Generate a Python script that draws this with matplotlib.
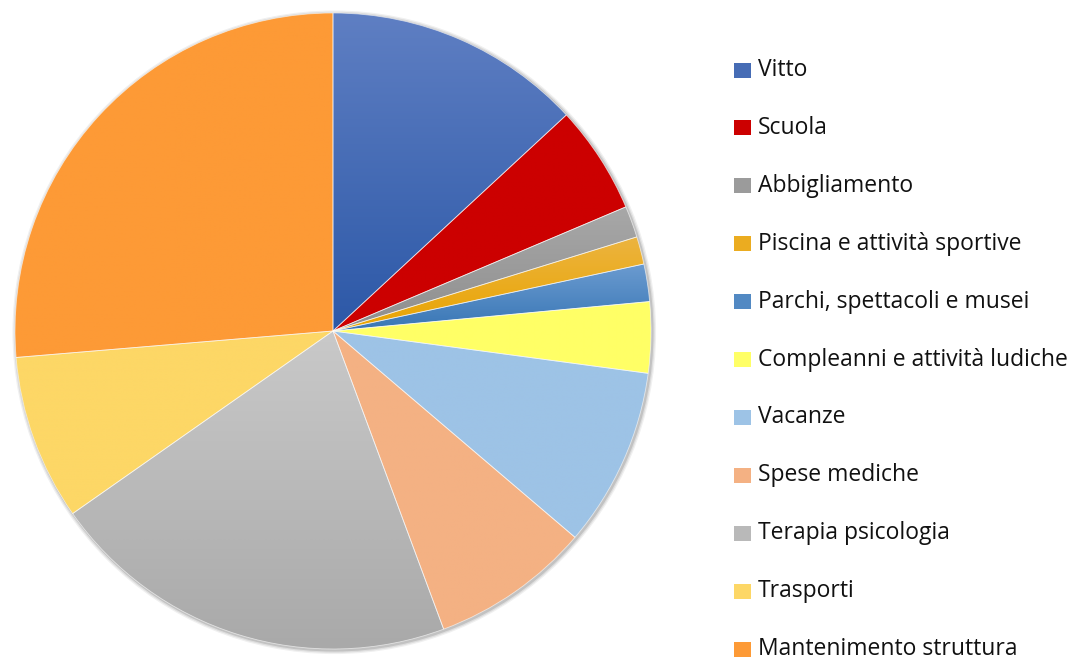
import numpy as np
import matplotlib
matplotlib.use("Agg")
import matplotlib.pyplot as plt
from matplotlib.colors import LinearSegmentedColormap, to_rgb
from matplotlib.patches import Rectangle, Circle

categories = ["Vitto", "Scuola", "Abbigliamento", "Piscina e attività sportive",
              "Parchi, spettacoli e musei", "Compleanni e attività ludiche",
              "Vacanze", "Spese mediche", "Terapia psicologia", "Trasporti",
              "Mantenimento struttura"]
values = [13.1, 5.5, 1.6, 1.4, 1.9, 3.6, 9.1, 8.1, 20.9, 8.4, 26.3]

# (top colour, bottom colour) of each slice's vertical gradient
top_colors = ["#5f7fc3", "#cc0000", "#a8a8a8", "#ecb440", "#6b9bd0", "#ffff66",
              "#9dc3e6", "#f4b183", "#c9c9c9", "#fdd766", "#fd9a36"]
bot_colors = ["#2c58a7", "#cc0000", "#8e8e8e", "#e9a400", "#3876b5", "#ffff66",
              "#9dc3e6", "#f4b183", "#a9a9a9", "#fdd766", "#fd9a36"]

plt.rcParams['font.family'] = ['Open Sans', 'DejaVu Sans']

W, H = 1080, 660
fig = plt.figure(figsize=(W / 100, H / 100), dpi=100)
cx, cy, R = 333, 331, 318
ax = fig.add_axes([(cx - R * 1.02) / W, (H - cy - R * 1.02) / H,
                   2 * R * 1.02 / W, 2 * R * 1.02 / H])
ax.set_aspect('equal')
ax.axis('off')

# soft shadow
for k, a in [(1.012, 0.06), (1.008, 0.08), (1.004, 0.12)]:
    ax.add_patch(Circle((0.004, -0.004), k, color='#000000', alpha=a, lw=0, zorder=0))

wedges, _ = ax.pie(values, startangle=90, counterclock=False, radius=1,
                   colors=bot_colors,
                   wedgeprops=dict(linewidth=0.6, edgecolor=(1, 1, 1, 0.6), zorder=2))

for w, ct, cb in zip(wedges, top_colors, bot_colors):
    th = np.radians(np.linspace(w.theta1, w.theta2, 200))
    xs = np.concatenate([[0], np.cos(th)])
    ys = np.concatenate([[0], np.sin(th)])
    x0, x1, y0, y1 = xs.min(), xs.max(), ys.min(), ys.max()
    cmap = LinearSegmentedColormap.from_list('g', [cb, ct])
    grad = np.linspace(0, 1, 256).reshape(-1, 1)
    im = ax.imshow(grad, cmap=cmap, origin='lower', extent=(x0, x1, y0, y1),
                   aspect='auto', zorder=1, interpolation='bilinear')
    im.set_clip_path(w)
    w.set_facecolor('none')

ax.set_xlim(-1.02, 1.02)
ax.set_ylim(-1.02, 1.02)

# legend
y_first, step = 70, 57.9
for i, (lab, ct, cb) in enumerate(zip(categories, top_colors, bot_colors)):
    yc = y_first + i * step
    mid = tuple((np.array(to_rgb(ct)) + np.array(to_rgb(cb))) / 2)
    fig.patches.append(Rectangle((734 / W, 1 - (yc + 7.5) / H), 17 / W, 15 / H,
                                 transform=fig.transFigure, facecolor=mid,
                                 edgecolor='none'))
    fig.text(758 / W, 1 - yc / H, lab, fontsize=16.5, color='#111111',
             va='center', ha='left')

fig.savefig("out.png", dpi=100)
